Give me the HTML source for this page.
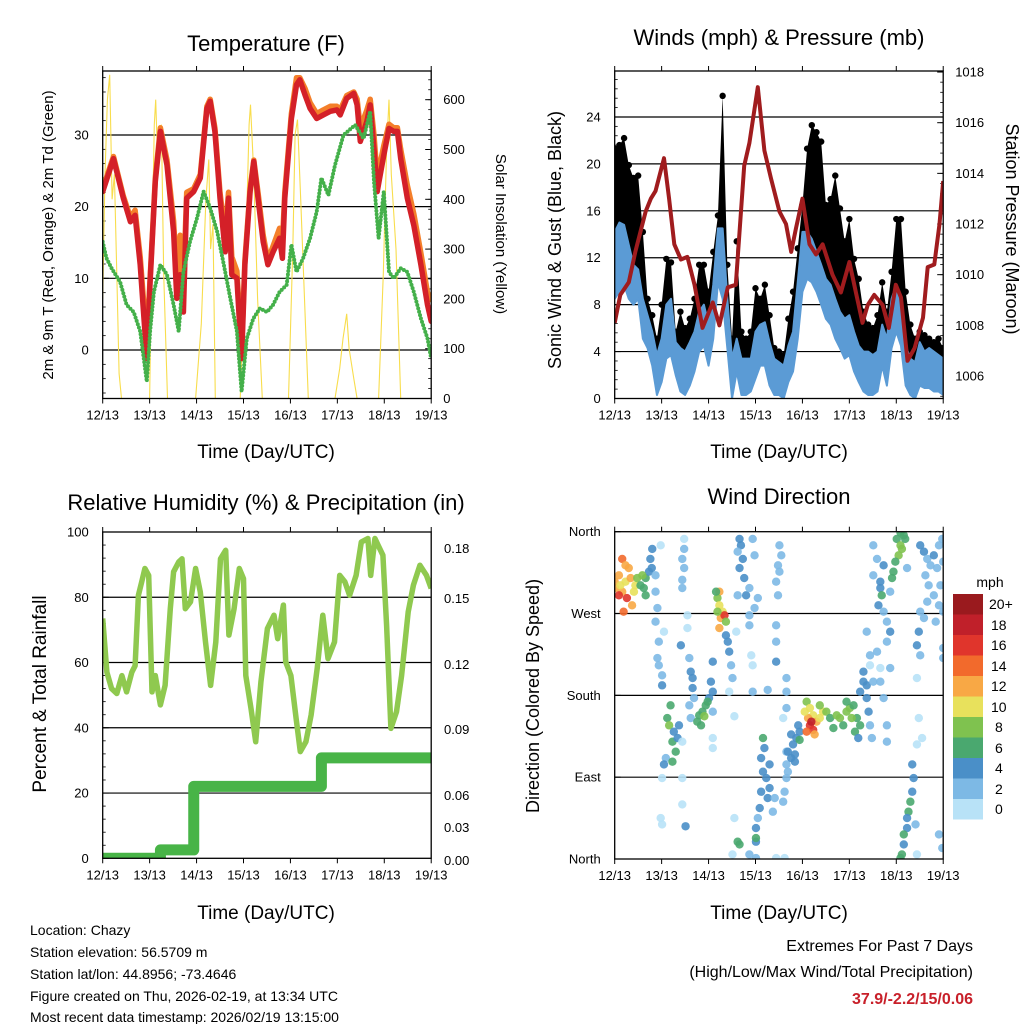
<!DOCTYPE html>
<html><head><meta charset="utf-8"><style>
html,body{margin:0;padding:0;background:#fff;}
svg{display:block;font-family:"Liberation Sans",sans-serif;}
</style></head><body>
<svg id="c" width="1024" height="1024" viewBox="0 0 1024 1024" xmlns="http://www.w3.org/2000/svg">
<defs>
<clipPath id="cp1"><rect x="102.7" y="71" width="328.5" height="327.5"/></clipPath>
<clipPath id="cp2"><rect x="614.7" y="71" width="328.5" height="327.5"/></clipPath>
<clipPath id="cp3"><rect x="102.7" y="532" width="328.5" height="326.3"/></clipPath>
<clipPath id="cp4"><rect x="614.7" y="531.7" width="328.5" height="327.3"/></clipPath>
</defs>
<g font-size="22" text-anchor="middle" fill="#000">
<text x="266" y="51">Temperature (F)</text>
<text x="779" y="45">Winds (mph) &amp; Pressure (mb)</text>
<text x="266" y="510">Relative Humidity (%) &amp; Precipitation (in)</text>
<text x="779" y="504">Wind Direction</text>
</g>
<g font-size="19" text-anchor="middle">
<text x="266" y="458">Time (Day/UTC)</text>
<text x="779" y="458">Time (Day/UTC)</text>
<text x="266" y="919">Time (Day/UTC)</text>
<text x="779" y="919">Time (Day/UTC)</text>
</g>
<text font-size="15" text-anchor="middle" transform="translate(53,235) rotate(-90)">2m &amp; 9m T (Red, Orange) &amp; 2m Td (Green)</text>
<text font-size="15" text-anchor="middle" transform="translate(496,234) rotate(90)" dy="0">Solar Insolation (Yellow)</text>
<text font-size="18" text-anchor="middle" transform="translate(561,240) rotate(-90)">Sonic Wind &amp; Gust (Blue, Black)</text>
<text font-size="18" text-anchor="middle" transform="translate(1006,229) rotate(90)">Station Pressure (Maroon)</text>
<text font-size="19" text-anchor="middle" transform="translate(46,694) rotate(-90)">Percent &amp; Total Rainfall</text>
<text font-size="18" text-anchor="middle" transform="translate(539,696) rotate(-90)">Direction (Colored By Speed)</text>
<g font-size="13">
<text x="444" y="553">0.18</text><text x="444" y="603">0.15</text><text x="444" y="669">0.12</text>
<text x="444" y="734">0.09</text><text x="444" y="800">0.06</text><text x="444" y="832">0.03</text><text x="444" y="865">0.00</text>
</g>
<g>
<text x="990" y="587" font-size="14" text-anchor="middle">mph</text>
<rect x="953" y="594" width="30" height="20.5" fill="#9a1a1e"/><text x="989" y="609" font-size="14">20+</text>
<rect x="953" y="614.5" width="30" height="20.5" fill="#c0202a"/><text x="991" y="630" font-size="14">18</text>
<rect x="953" y="635" width="30" height="20.5" fill="#e0352c"/><text x="991" y="650" font-size="14">16</text>
<rect x="953" y="655.5" width="30" height="20.5" fill="#f26a2c"/><text x="991" y="671" font-size="14">14</text>
<rect x="953" y="676" width="30" height="20.5" fill="#f8a845"/><text x="991" y="691" font-size="14">12</text>
<rect x="953" y="696.5" width="30" height="20.5" fill="#e8e15c"/><text x="991" y="712" font-size="14">10</text>
<rect x="953" y="717" width="30" height="20.5" fill="#7fc24f"/><text x="995" y="732" font-size="14">8</text>
<rect x="953" y="737.5" width="30" height="20.5" fill="#4aa86f"/><text x="995" y="753" font-size="14">6</text>
<rect x="953" y="758" width="30" height="20.5" fill="#4a8fc8"/><text x="995" y="773" font-size="14">4</text>
<rect x="953" y="778.5" width="30" height="20.5" fill="#7db9e5"/><text x="995" y="794" font-size="14">2</text>
<rect x="953" y="799" width="30" height="20.5" fill="#b8e2f7"/><text x="995" y="814" font-size="14">0</text>
</g>
<g font-size="14">
<text x="30" y="935">Location: Chazy</text>
<text x="30" y="957">Station elevation: 56.5709 m</text>
<text x="30" y="979">Station lat/lon: 44.8956; -73.4646</text>
<text x="30" y="1001">Figure created on Thu, 2026-02-19, at 13:34 UTC</text>
<text x="30" y="1022">Most recent data timestamp: 2026/02/19 13:15:00</text>
</g>
<g font-size="16" text-anchor="end">
<text x="973" y="951">Extremes For Past 7 Days</text>
<text x="973" y="977">(High/Low/Max Wind/Total Precipitation)</text>
<text x="973" y="1004" font-weight="bold" fill="#c8202a">37.9/-2.2/15/0.06</text>
</g>
</svg>
<script>
// ---------- data ----------
const dayLabels=["12/13","13/13","14/13","15/13","16/13","17/13","18/13","19/13"];
const tempTicks=[0,10,20,30];
const solarTicks=[0,100,200,300,400,500,600];
const windTicks=[0,4,8,12,16,20,24];
const presTicks=[1006,1008,1010,1012,1014,1016,1018];
const rhTicks=[0,20,40,60,80,100];
const dirTicks=[0,90,180,270,360];
const dirLabels=["North","East","South","West","North"];

const tT=[0,0.23,0.44,0.59,0.69,0.8,0.94,1.01,1.12,1.23,1.37,1.51,1.58,1.65,1.72,1.79,1.94,2.08,2.22,2.29,2.39,2.5,2.61,2.68,2.75,2.86,2.96,3.03,3.14,3.22,3.31,3.42,3.52,3.63,3.77,3.83,3.88,4.02,4.13,4.2,4.31,4.42,4.56,4.7,4.85,4.99,5.06,5.2,5.35,5.42,5.49,5.63,5.7,5.78,5.85,5.99,6.1,6.2,6.28,6.35,6.49,6.63,6.78,6.92,7.0];
const temp2m=[22.1,26.7,21.2,17.9,18.8,11.9,-1.2,9.5,23.5,30.5,25.8,16.5,7.2,10.5,5.3,21.2,22.1,24,33.7,34.7,30.5,21.2,13.7,21.2,10.5,10,-1.2,11.9,22.1,26.3,21.2,15.1,11.9,13.7,15.6,12.8,21.2,32.3,37,37.7,35.6,33.7,32.3,32.8,33.3,33.5,32.8,35.1,35.8,34.2,29.1,31.9,34.2,28.1,22.1,27.2,30.9,30.5,30.5,26.7,21.2,17.4,11.9,6.3,4];
const temp9m=[22.5,27,21.5,18.5,19.5,13,1,10,24,31,26.5,18,10,16,9,22,22.5,24.5,34,35,31,22,16,22,13,11,0,12.5,22.5,26.5,22,16,12.5,14.5,17,15,22,33,38,38,36.5,34.5,33,33.5,34,34,33.5,35.5,36,35,31,33.5,35,30,24,28.5,31.5,31,31,28,23,19,13.5,8,7];
const tD=[0,0.08,0.19,0.37,0.51,0.66,0.8,0.94,1.01,1.09,1.23,1.37,1.51,1.62,1.72,1.86,2.01,2.15,2.29,2.44,2.58,2.72,2.86,2.96,3.07,3.21,3.35,3.5,3.63,3.77,3.92,4.02,4.13,4.27,4.42,4.56,4.66,4.81,4.95,5.13,5.38,5.56,5.7,5.78,5.88,5.99,6.1,6.2,6.35,6.49,6.63,6.78,6.92,7.0];
const dewpt=[15.1,12.8,11.4,9.5,6.3,5.3,2.6,-4.4,2.6,8.1,11.9,10.5,6.3,2.6,10.9,15.1,18.4,22.1,19.8,16.5,11.9,7.2,2.6,-5.8,1.6,4.4,5.8,5.3,6.3,8.1,9.1,14.7,10.9,12.8,15.6,19.3,24,21.6,25.8,30,31.4,29.5,33.3,23.5,15.6,22.1,10.9,10,11.4,10.9,8.1,4.4,1.6,-1.2];
const tS=[0,0.05,0.1,0.15,0.2,0.25,0.3,0.35,0.4,1.0,1.05,1.1,1.13,1.18,1.25,1.3,1.38,1.98,2.1,2.2,2.26,2.3,2.35,2.4,2.93,3.05,3.12,3.15,3.22,3.3,3.4,3.96,4.05,4.1,4.15,4.22,4.3,4.38,4.95,5.05,5.12,5.2,5.25,5.35,5.42,5.88,5.98,6.05,6.1,6.15,6.25,6.35,7.0];
const solar=[200,450,600,650,400,450,250,50,0,0,300,550,600,450,550,250,0,0,150,400,480,300,350,0,0,300,550,590,450,200,0,0,300,530,560,400,200,0,0,60,120,170,100,40,0,0,250,500,600,450,300,0,0];

const gust=[21.3,21.6,22.2,19.9,18.8,19,14.2,8.5,7.1,5.1,8,11.9,11.6,5.7,7.4,6,6.8,8.5,11.4,11.4,9.1,12.5,15.6,25.8,11.4,5.1,13.4,5.7,5.1,5.7,9.4,8.5,9.7,7.1,4.3,4,3.7,6.8,9.1,12.8,16.5,21.3,23.3,22.7,21.9,16.5,17,19,16.2,13.4,15.3,11.9,10.2,7.4,6.3,6,7.1,9.9,7.4,10.8,15.3,15.3,9.1,6.3,5.1,5.7,5.4,5.1,4.8,5.1,4.3];
const windHi=[14.2,15,14.8,13.1,11.4,11,8.5,7.1,5.7,3.7,5.1,8,8.5,4.8,4.3,4,4.8,5.7,7.4,8,6.3,9.7,14.5,14.5,8.5,3.4,5.1,3.4,3.4,3.4,5.7,6.3,6.5,4.8,3.4,3.1,2.8,4.5,5.7,9.9,14.2,14.2,13.6,12.5,11.4,10.2,9.7,8.5,7.4,6.8,7.1,5.7,4.5,4,4,3.7,4,6.3,5.1,8.5,9.7,8.5,4.5,3.4,3.1,4.8,4,4.3,4,3.7,3.4];
const windLo=[8.5,9.1,9.7,8.5,8,8.5,5.1,4.3,2.8,0.3,1.4,3.4,3.7,2,0.6,0.3,1.1,2.3,4,4.5,2.8,5.1,9.9,8.5,4.3,0,2.3,0.3,0.3,0.6,1.7,2.8,2.8,1.1,0.3,0.3,0,1.4,2.3,5.1,9.1,10.2,9.9,9.1,8,6.8,6.3,5.1,4.3,3.4,3.7,2.3,1.4,0.6,0.3,0.3,0.6,2.8,1.1,4.3,5.7,4.5,1.1,0.3,0,1.1,0.9,0.9,0.6,0.6,0.3];
const tP=[0,0.12,0.3,0.44,0.66,0.77,0.87,1.05,1.16,1.27,1.41,1.55,1.7,1.87,2.09,2.23,2.41,2.58,2.76,2.87,3.05,3.19,3.33,3.51,3.65,3.76,3.86,4.0,4.15,4.29,4.43,4.64,4.82,5.0,5.14,5.28,5.39,5.53,5.71,5.84,5.99,6.1,6.24,6.39,6.57,6.67,6.81,6.92,7.0];
const pressure=[1008.1,1009.2,1009.7,1010.9,1012.5,1013,1013.3,1014.6,1013,1011.2,1010.6,1010.7,1009.6,1007.9,1008.9,1008,1009.5,1009.6,1014.3,1015.2,1017.4,1014.9,1013.8,1012.5,1012,1010.9,1011.8,1013,1011.2,1010.8,1011.2,1010,1009.3,1010.5,1009.3,1008.1,1008.8,1009.2,1008.8,1007.9,1009.6,1009.1,1006.6,1007.1,1008.3,1010.3,1010.4,1012,1013.7];

const tR=[0,0.09,0.19,0.3,0.41,0.51,0.62,0.69,0.76,0.83,0.9,0.98,1.05,1.12,1.23,1.33,1.44,1.51,1.62,1.69,1.76,1.87,1.98,2.08,2.19,2.3,2.41,2.51,2.62,2.69,2.8,2.91,3.0,3.05,3.16,3.26,3.37,3.51,3.65,3.73,3.85,3.9,4.01,4.12,4.21,4.33,4.44,4.57,4.69,4.8,4.94,5.05,5.16,5.26,5.4,5.51,5.65,5.71,5.8,5.97,6.05,6.14,6.26,6.37,6.51,6.62,6.76,6.9,7.0];
const rh=[73.5,57,52,50.5,56,51,57,59,80.6,84.7,88.8,86.7,51,56,47,53,76.5,87.8,90.8,91.8,76.5,78.6,88.8,81.6,66.3,53,66.3,91.8,94.4,68.4,76.5,88.8,85.7,56,45.9,35.7,54,70.4,74.5,67.3,77.6,60.2,56,42.9,32.7,35.7,43.9,58.2,74.5,61.2,66.3,86.7,84.7,80.6,86.7,96.9,98,86.7,98,92.9,71.4,39.8,44.9,56,75.5,83.7,89.8,86.7,82.7];
const tPr=[0,1.23,1.94,4.66,7.0];
const precip=[0,0.005,0.043,0.06,0.06];

const wdT=[0.01,0.09,0.16,0.16,0.23,0.26,0.34,0.37,0.44,0.48,0.09,0.19,0.3,0.41,0.55,0.62,0.66,0.73,0.76,0.8,0.79,0.66,0.59,0.0,0.12,0.23,
0.87,0.87,0.91,0.87,0.98,1.05,0.94,0.94,1.01,0.91,1.01,
1.12,1.16,1.19,1.23,1.26,1.3,1.34,1.09,1.37,1.23,1.05,1.01,0.98,1.01,
1.48,1.48,1.44,1.48,1.44,1.44,1.55,1.55,1.59,1.62,1.66,1.66,1.69,1.59,1.62,1.44,1.44,1.44,1.51,1.41,
1.76,1.8,1.87,1.94,2.01,2.09,2.05,2.09,1.91,1.84,1.98,2.09,2.09,2.09,
2.23,2.19,2.23,2.3,2.26,2.34,2.23,2.37,2.19,2.16,2.37,2.41,2.44,
2.48,2.51,2.44,2.55,2.59,2.55,2.51,2.66,2.62,
2.66,2.69,2.62,2.73,2.66,2.76,2.8,2.62,2.94,2.98,2.87,2.98,2.87,2.87,2.91,2.94,2.94,3.05,
3.16,3.19,3.12,3.16,3.23,3.3,3.26,3.12,3.09,3.05,3.01,3.01,3.01,3.37,3.41,2.87,3.01,3.3,
3.51,3.55,3.48,3.51,3.44,3.48,3.44,3.44,3.44,3.26,3.66,3.66,3.66,3.59,3.66,3.66,3.66,3.62,3.59,3.44,3.62,
3.76,3.8,3.87,3.84,3.91,3.94,3.69,3.76,3.69,3.84,3.94,
4.09,4.16,4.23,4.12,4.16,4.23,4.3,4.37,4.44,4.51,4.37,4.05,4.26,4.09,4.19,4.59,4.66,4.73,4.8,4.87,4.94,5.01,5.09,5.16,5.23,4.94,5.05,5.12,
5.23,5.3,5.37,5.41,5.44,5.3,5.48,5.37,5.19,5.51,5.59,5.66,5.8,5.8,5.73,5.66,5.87,5.44,
5.51,5.59,5.51,5.66,5.66,5.69,5.62,5.73,5.8,5.87,5.37,5.44,5.8,5.73,5.87,
6.01,6.09,6.05,5.98,5.94,6.16,6.12,6.19,6.09,5.91,6.23,
6.34,6.37,6.34,6.3,6.26,6.23,6.23,6.16,6.16,6.12,6.09,6.41,6.44,
6.51,6.59,6.66,6.73,6.8,6.87,6.91,6.98,7.0,6.62,6.69,6.8,6.91,7.0,6.51,6.48,6.44,6.51,6.59,6.84,6.66,6.94,7.0,6.44,6.48,6.55,6.44,6.91,6.98,7.0];
const wdDir=[298,312,330,294,305,287,309,279,301,309,290,272,320,294,301,298,309,316,330,341,320,290,312,305,301,323,
312,294,276,261,345,250,239,213,191,221,202,
155,147,169,129,140,118,133,111,147,107,104,89,45,38,
352,341,330,320,307,298,268,254,221,206,188,199,177,169,155,129,89,60,36,235,
151,158,162,169,177,184,195,217,157,147,173,162,133,122,
294,287,279,272,265,268,254,261,272,294,246,239,228,
213,199,184,157,250,45,5,16,19,
352,345,338,330,320,309,290,290,352,334,298,276,268,257,224,213,184,287,
133,122,111,96,89,78,67,74,56,45,34,19,23,52,67,5,1,104,
345,334,323,316,305,290,257,239,217,186,199,184,166,155,118,104,89,74,63,1,1,
137,126,133,115,147,140,118,111,96,107,131,
173,166,158,155,147,142,151,155,162,162,169,162,137,140,151,155,144,158,155,147,162,166,169,155,147,173,155,140,
184,195,177,162,147,206,133,191,133,195,228,195,147,129,177,210,210,213,
345,330,312,305,298,290,279,272,261,250,250,224,239,323,294,
352,345,334,327,316,356,341,352,359,309,320,
104,89,74,63,52,45,34,27,16,5,1,38,5,
345,338,330,323,334,320,345,352,327,312,301,290,279,272,272,250,235,224,265,261,283,301,221,199,155,133,126,27,12,232];
const wdSpd=[12,12,14,12,10,16,12,12,10,8,16,14,12,10,6,6,6,4,4,4,4,6,8,12,10,12,
2,2,2,2,0,0,2,2,4,2,2,
6,8,6,6,4,6,4,2,4,6,4,0,0,0,
0,2,2,2,2,2,0,0,2,4,4,4,2,2,2,0,0,0,4,4,
6,6,6,6,4,4,4,4,8,6,6,2,0,0,
12,8,10,10,12,16,12,8,8,6,4,4,4,
2,2,0,0,0,0,0,6,6,
4,4,2,4,4,4,4,2,2,2,2,2,2,2,0,0,2,2,
6,4,4,4,4,4,4,4,4,2,4,4,6,2,2,2,2,4,
2,2,2,2,2,2,2,2,4,2,2,2,2,0,2,2,2,2,2,0,0,
4,4,4,4,4,4,4,4,2,4,6,
8,10,10,12,16,16,12,10,10,8,8,10,12,14,18,6,6,8,8,6,8,8,6,6,6,6,8,6,
4,4,4,4,2,4,2,4,4,2,2,2,2,2,2,0,2,0,
2,2,2,4,4,6,4,2,2,4,2,2,2,4,2,
6,8,8,6,6,6,8,6,6,6,2,
4,4,4,6,6,4,4,6,4,6,6,2,0,
4,4,2,2,4,2,2,2,2,2,2,2,2,2,2,4,4,2,2,2,2,2,2,0,0,0,0,2,2,2];
const speedColors=["#b8e2f7","#7db9e5","#4a8fc8","#4aa86f","#7fc24f","#e8e15c","#f8a845","#f26a2c","#e0352c","#c0202a","#9a1a1e"];

// ---------- scales ----------
const NS="http://www.w3.org/2000/svg";
const svg=document.getElementById("c");
const DAYW=46.93, PW=328.5;
const P={p1:{L:102.7,T:71,B:398.5},p2:{L:614.7,T:71,B:398.5},p3:{L:102.7,T:532,B:858.3},p4:{L:614.7,T:531.7,B:859}};
const xs=(p,t)=>p.L+t*DAYW;
const yTemp=v=>350-v*7.167;
const ySolar=v=>398.5-v*0.498;
const yWind=v=>398.5-v*11.73;
const yPres=v=>376-(v-1006)*25.33;
const yRH=v=>858.3-v*3.263;
const yPrecip=v=>858.3-v*1673;
const yDir=v=>859-v*0.9092;
function el(tag,attrs,parent){const e=document.createElementNS(NS,tag);for(const k in attrs)e.setAttribute(k,attrs[k]);(parent||svg).appendChild(e);return e;}
function pathFrom(p,ts,vs,yf){let d="";for(let i=0;i<ts.length;i++){d+=(i?"L":"M")+xs(p,ts[i]).toFixed(1)+","+yf(vs[i]).toFixed(1);}return d;}
function group(clip){const g=el("g",clip?{"clip-path":"url(#"+clip+")"}:{});return g;}

// ---------- frames, grid, ticks ----------
function frame(p,key,gridVals,yf){
  const g=group();
  
  
  gridVals.forEach(v=>{el("line",{x1:p.L,x2:p.L+PW,y1:yf(v),y2:yf(v),stroke:"#000","stroke-width":1.2},g);});
  for(let d=0;d<=7;d++){const x=xs(p,d);
    el("line",{x1:x,x2:x,y1:p.T,y2:p.T-5,stroke:"#000","stroke-width":1},g);
    el("line",{x1:x,x2:x,y1:p.B,y2:p.B+5,stroke:"#000","stroke-width":1},g);
    const t=el("text",{x:x,y:p.B+21,"font-size":13,"text-anchor":"middle"},g);t.textContent=dayLabels[d];}
  return g;
}
function border(p,key){
  const r=el("rect",{x:p.L,y:p.T,width:PW,height:p.B-p.T,fill:"none",stroke:"#000","stroke-width":1.3});
  
  
}
function yLabels(p,vals,labels,yf,side,key,minorStep){
  const g=group();
  
  
  vals.forEach((v,i)=>{const y=yf(v);
    const x=side==="L"?p.L:p.L+PW;
    el("line",{x1:x,x2:side==="L"?x+6:x-6,y1:y,y2:y,stroke:"#000","stroke-width":1},g);
    const t=el("text",{x:side==="L"?p.L-14:p.L+PW+12,y:y+4.5,"font-size":13,"text-anchor":side==="L"?"end":"start"},g);
    t.textContent=labels?labels[i]:String(v);});
  if(minorStep){const lo=vals[0]-minorStep*4, hi=vals[vals.length-1]+minorStep*4;
    for(let v=lo;v<=hi+1e-9;v+=minorStep){const y=yf(v);if(y<p.T||y>p.B)continue;
      const x=side==="L"?p.L:p.L+PW;el("line",{x1:x,x2:side==="L"?x+3:x-3,y1:y,y2:y,stroke:"#000","stroke-width":0.8},g);}}
}
frame(P.p1,"temperature",tempTicks,yTemp);
frame(P.p2,"winds",windTicks.slice(1),yWind);
frame(P.p3,"humidity",rhTicks.slice(1,5),yRH);
frame(P.p4,"direction",dirTicks.slice(1,4),yDir);
yLabels(P.p1,tempTicks,null,yTemp,"L","temp-y-ticks",2);
yLabels(P.p1,solarTicks,null,ySolar,"R","solar-y-ticks",20);
yLabels(P.p2,windTicks,null,yWind,"L","wind-y-ticks",0.8);
yLabels(P.p2,presTicks,null,yPres,"R","pressure-y-ticks",0.4);
yLabels(P.p3,rhTicks,null,yRH,"L","rh-y-ticks",4);
yLabels(P.p4,dirTicks,dirLabels,yDir,"L","direction-y-ticks",null);

// ---------- temperature panel ----------
const g1=group("cp1");
const sol=el("path",{d:pathFrom(P.p1,tS,solar,ySolar),fill:"none",stroke:"#f8dd4c","stroke-width":1.1},g1);


const o9=el("path",{d:pathFrom(P.p1,tT,temp9m,yTemp),fill:"none",stroke:"#f47f2a","stroke-width":5.5,"stroke-linejoin":"round","stroke-linecap":"round"},g1);


const r2=el("path",{d:pathFrom(P.p1,tT,temp2m,yTemp),fill:"none",stroke:"#d42028","stroke-width":5.5,"stroke-linejoin":"round","stroke-linecap":"round"},g1);


const dw=el("path",{d:pathFrom(P.p1,tD,dewpt,yTemp),fill:"none",stroke:"#44b04a","stroke-width":4,"stroke-dasharray":"0 3.5","stroke-linecap":"round","stroke-linejoin":"round"},g1);


border(P.p1,"temperature");

// ---------- winds panel ----------
const g2=group("cp2");
const tW=gust.map((_,i)=>i*0.1);
let gd="";tW.forEach((t,i)=>{gd+=(i?"L":"M")+xs(P.p2,t)+","+yWind(gust[i]);});
for(let i=tW.length-1;i>=0;i--)gd+="L"+xs(P.p2,tW[i])+","+yWind(windLo[i]);
const gb=el("path",{d:gd+"Z",fill:"#000"},g2);


tW.forEach((t,i)=>{
  const c=el("circle",{cx:xs(P.p2,t),cy:yWind(gust[i]),r:3.2,fill:"#000"},g2);
  
  
});
let bd="";tW.forEach((t,i)=>{bd+=(i?"L":"M")+xs(P.p2,t)+","+yWind(windHi[i]);});
for(let i=tW.length-1;i>=0;i--)bd+="L"+xs(P.p2,tW[i])+","+yWind(windLo[i]);
const bb=el("path",{d:bd+"Z",fill:"#5b9bd5",stroke:"#5b9bd5","stroke-width":2,"stroke-linejoin":"round"},g2);


const pr=el("path",{d:pathFrom(P.p2,tP,pressure,yPres),fill:"none",stroke:"#a01c1e","stroke-width":4,"stroke-linejoin":"round"},g2);


border(P.p2,"winds");

// ---------- humidity panel ----------
const g3=group("cp3");
const rl=el("path",{d:pathFrom(P.p3,tR,rh,yRH),fill:"none",stroke:"#8fc94f","stroke-width":5.5,"stroke-linejoin":"round"},g3);


let sd="";for(let i=0;i<tPr.length;i++){const x=xs(P.p3,tPr[i]);if(i===0)sd="M"+x+","+yPrecip(precip[0]);else{sd+="L"+x+","+yPrecip(precip[i-1])+"L"+x+","+yPrecip(precip[i]);}}
const pl=el("path",{d:sd,fill:"none",stroke:"#48b447","stroke-width":11,"stroke-linejoin":"round","stroke-linecap":"round"},g3);


border(P.p3,"humidity");

// ---------- wind direction panel ----------
const g4=group("cp4");
for(let i=0;i<wdT.length;i++){
  const ci=Math.min(10,Math.floor(wdSpd[i]/2));
  const c=el("circle",{cx:xs(P.p4,wdT[i]),cy:yDir(wdDir[i]),r:4.2,fill:speedColors[ci],"fill-opacity":0.9},g4);
  
  
}
border(P.p4,"direction");
</script>
</body></html>
